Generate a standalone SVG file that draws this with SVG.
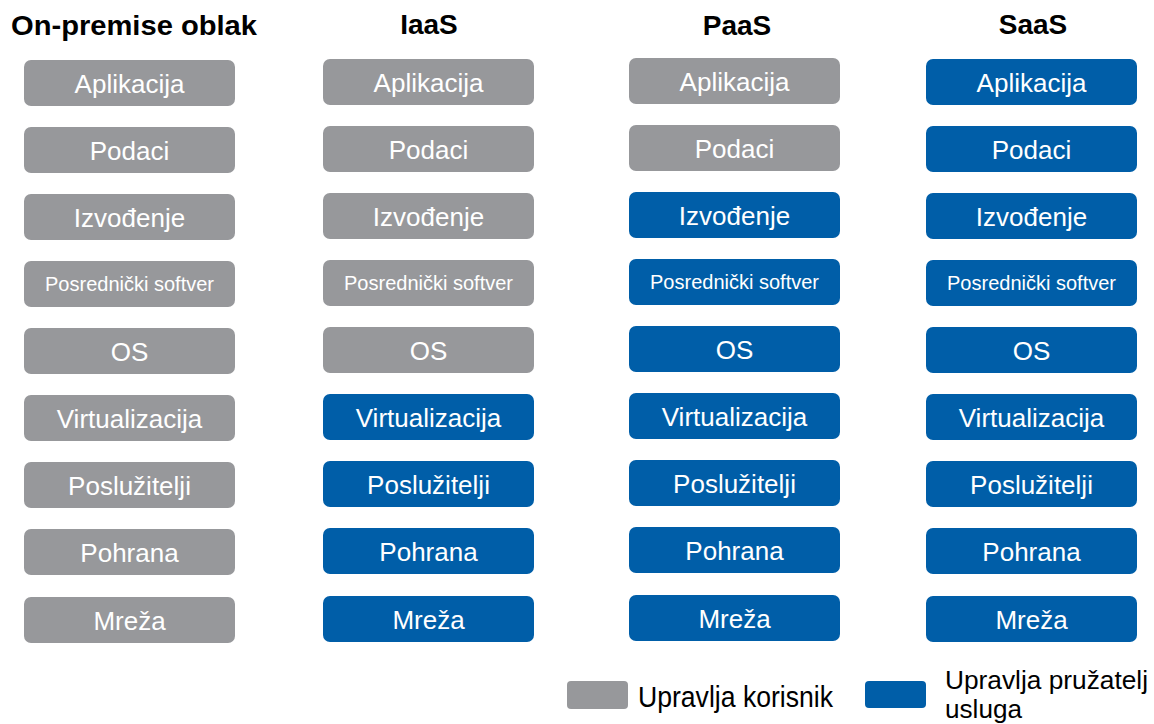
<svg xmlns="http://www.w3.org/2000/svg" width="1154" height="724" viewBox="0 0 1154 724">
  <style>
    .hd { font-family: "Liberation Sans", Arial, sans-serif; font-weight: bold; font-size: 28px; fill: #000; text-anchor: middle; }
    .u { fill: #97989b; }
    .p { fill: #005ea8; }
    .t { font-family: "Liberation Sans", Arial, sans-serif; font-size: 26px; fill: #fff; text-anchor: middle; }
    .s { font-family: "Liberation Sans", Arial, sans-serif; font-size: 20px; fill: #fff; text-anchor: middle; }
    .lg { font-family: "Liberation Sans", Arial, sans-serif; font-size: 29px; fill: #000; }
    .lg2 { font-family: "Liberation Sans", Arial, sans-serif; font-size: 25px; fill: #000; }
  </style>
  <defs>
    <rect id="box" width="211" height="46" rx="7" ry="7"/>
  </defs>
  <rect width="1154" height="724" fill="#fff"/>

  <!-- column headers -->
  <g id="headers">
    <text class="hd" x="134" y="35" textLength="246" lengthAdjust="spacingAndGlyphs">On-premise oblak</text>
    <text class="hd" x="429" y="34">IaaS</text>
    <text class="hd" x="737" y="35">PaaS</text>
    <text class="hd" x="1033" y="34">SaaS</text>
  </g>

  <!-- On-premise column -->
  <g id="col-onprem" transform="translate(24,60)">
    <g id="op-aplikacija"><use href="#box" class="u"/><text class="t" x="105.5" y="33">Aplikacija</text></g>
    <g id="op-podaci" transform="translate(0,67)"><use href="#box" class="u"/><text class="t" x="105.5" y="33">Podaci</text></g>
    <g id="op-izvodenje" transform="translate(0,134)"><use href="#box" class="u"/><text class="t" x="105.5" y="33">Izvođenje</text></g>
    <g id="op-posrednicki" transform="translate(0,201)"><use href="#box" class="u"/><text class="s" x="105.5" y="30">Posrednički softver</text></g>
    <g id="op-os" transform="translate(0,268)"><use href="#box" class="u"/><text class="t" x="105.5" y="33">OS</text></g>
    <g id="op-virtualizacija" transform="translate(0,335)"><use href="#box" class="u"/><text class="t" x="105.5" y="33">Virtualizacija</text></g>
    <g id="op-posluzitelji" transform="translate(0,402)"><use href="#box" class="u"/><text class="t" x="105.5" y="33">Poslužitelji</text></g>
    <g id="op-pohrana" transform="translate(0,469)"><use href="#box" class="u"/><text class="t" x="105.5" y="33">Pohrana</text></g>
    <g id="op-mreza" transform="translate(0,537)"><use href="#box" class="u"/><text class="t" x="105.5" y="33">Mreža</text></g>
  </g>

  <!-- IaaS column -->
  <g id="col-iaas" transform="translate(323,59)">
    <g id="ia-aplikacija"><use href="#box" class="u"/><text class="t" x="105.5" y="33">Aplikacija</text></g>
    <g id="ia-podaci" transform="translate(0,67)"><use href="#box" class="u"/><text class="t" x="105.5" y="33">Podaci</text></g>
    <g id="ia-izvodenje" transform="translate(0,134)"><use href="#box" class="u"/><text class="t" x="105.5" y="33">Izvođenje</text></g>
    <g id="ia-posrednicki" transform="translate(0,201)"><use href="#box" class="u"/><text class="s" x="105.5" y="30">Posrednički softver</text></g>
    <g id="ia-os" transform="translate(0,268)"><use href="#box" class="u"/><text class="t" x="105.5" y="33">OS</text></g>
    <g id="ia-virtualizacija" transform="translate(0,335)"><use href="#box" class="p"/><text class="t" x="105.5" y="33">Virtualizacija</text></g>
    <g id="ia-posluzitelji" transform="translate(0,402)"><use href="#box" class="p"/><text class="t" x="105.5" y="33">Poslužitelji</text></g>
    <g id="ia-pohrana" transform="translate(0,469)"><use href="#box" class="p"/><text class="t" x="105.5" y="33">Pohrana</text></g>
    <g id="ia-mreza" transform="translate(0,537)"><use href="#box" class="p"/><text class="t" x="105.5" y="33">Mreža</text></g>
  </g>

  <!-- PaaS column -->
  <g id="col-paas" transform="translate(629,58)">
    <g id="pa-aplikacija"><use href="#box" class="u"/><text class="t" x="105.5" y="33">Aplikacija</text></g>
    <g id="pa-podaci" transform="translate(0,67)"><use href="#box" class="u"/><text class="t" x="105.5" y="33">Podaci</text></g>
    <g id="pa-izvodenje" transform="translate(0,134)"><use href="#box" class="p"/><text class="t" x="105.5" y="33">Izvođenje</text></g>
    <g id="pa-posrednicki" transform="translate(0,201)"><use href="#box" class="p"/><text class="s" x="105.5" y="30">Posrednički softver</text></g>
    <g id="pa-os" transform="translate(0,268)"><use href="#box" class="p"/><text class="t" x="105.5" y="33">OS</text></g>
    <g id="pa-virtualizacija" transform="translate(0,335)"><use href="#box" class="p"/><text class="t" x="105.5" y="33">Virtualizacija</text></g>
    <g id="pa-posluzitelji" transform="translate(0,402)"><use href="#box" class="p"/><text class="t" x="105.5" y="33">Poslužitelji</text></g>
    <g id="pa-pohrana" transform="translate(0,469)"><use href="#box" class="p"/><text class="t" x="105.5" y="33">Pohrana</text></g>
    <g id="pa-mreza" transform="translate(0,537)"><use href="#box" class="p"/><text class="t" x="105.5" y="33">Mreža</text></g>
  </g>

  <!-- SaaS column -->
  <g id="col-saas" transform="translate(926,59)">
    <g id="sa-aplikacija"><use href="#box" class="p"/><text class="t" x="105.5" y="33">Aplikacija</text></g>
    <g id="sa-podaci" transform="translate(0,67)"><use href="#box" class="p"/><text class="t" x="105.5" y="33">Podaci</text></g>
    <g id="sa-izvodenje" transform="translate(0,134)"><use href="#box" class="p"/><text class="t" x="105.5" y="33">Izvođenje</text></g>
    <g id="sa-posrednicki" transform="translate(0,201)"><use href="#box" class="p"/><text class="s" x="105.5" y="30">Posrednički softver</text></g>
    <g id="sa-os" transform="translate(0,268)"><use href="#box" class="p"/><text class="t" x="105.5" y="33">OS</text></g>
    <g id="sa-virtualizacija" transform="translate(0,335)"><use href="#box" class="p"/><text class="t" x="105.5" y="33">Virtualizacija</text></g>
    <g id="sa-posluzitelji" transform="translate(0,402)"><use href="#box" class="p"/><text class="t" x="105.5" y="33">Poslužitelji</text></g>
    <g id="sa-pohrana" transform="translate(0,469)"><use href="#box" class="p"/><text class="t" x="105.5" y="33">Pohrana</text></g>
    <g id="sa-mreza" transform="translate(0,537)"><use href="#box" class="p"/><text class="t" x="105.5" y="33">Mreža</text></g>
  </g>

  <!-- legend -->
  <g id="legend">
    <rect class="u" x="567" y="681" width="61" height="28" rx="4"/>
    <text class="lg" x="638" y="707" textLength="195" lengthAdjust="spacingAndGlyphs">Upravlja korisnik</text>
    <rect class="p" x="865" y="681" width="61" height="27" rx="4"/>
    <text class="lg2" x="945" y="689" textLength="203" lengthAdjust="spacingAndGlyphs">Upravlja pružatelj</text>
    <text class="lg2" x="945" y="718" textLength="77" lengthAdjust="spacingAndGlyphs">usluga</text>
  </g>
</svg>
